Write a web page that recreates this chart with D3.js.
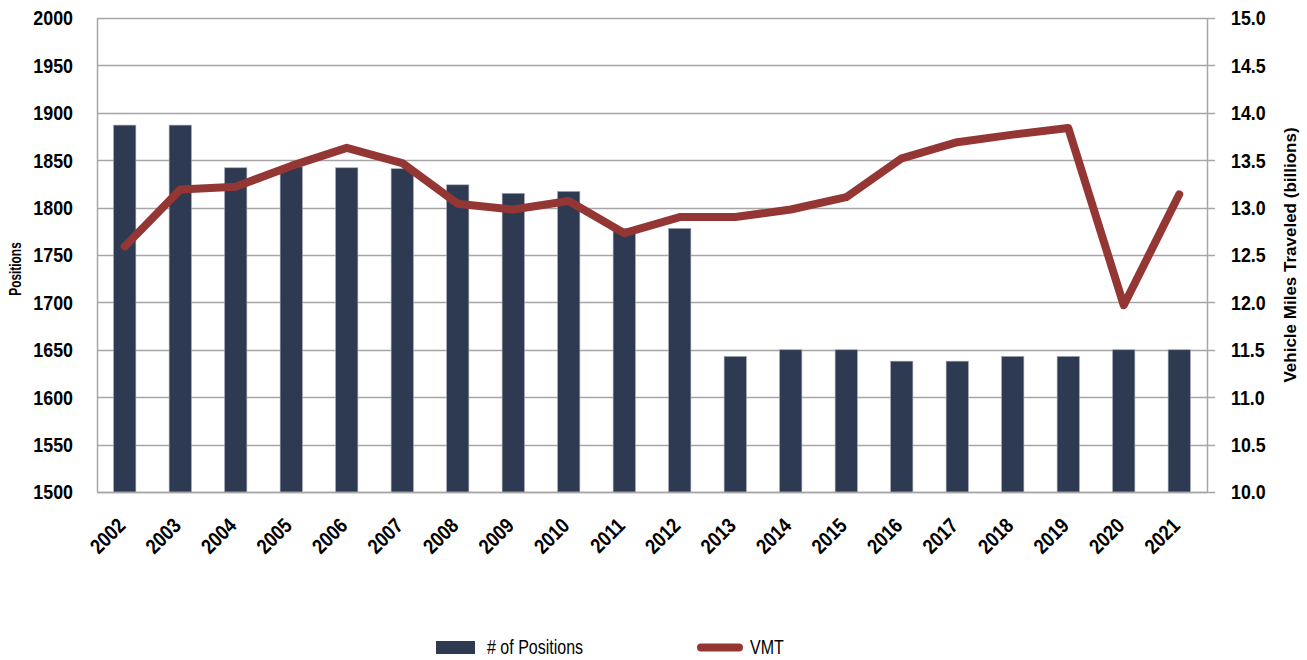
<!DOCTYPE html>
<html>
<head>
<meta charset="utf-8">
<script src="https://cdn.jsdelivr.net/npm/d3@7"></script>
<style>
  body { margin: 0; background: #fff; }
  svg { display: block; }
  text { font-family: "Liberation Sans", Arial, sans-serif; fill: #000; }
</style>
</head>
<body>
<div id="chart"></div>
<script>
// chart data
const years = ['2002', '2003', '2004', '2005', '2006', '2007', '2008', '2009', '2010', '2011',
               '2012', '2013', '2014', '2015', '2016', '2017', '2018', '2019', '2020', '2021'];
const positions = [1887, 1887, 1842, 1843, 1842, 1841, 1824, 1815, 1817, 1778,
                   1778, 1643, 1650, 1650, 1638, 1638, 1643, 1643, 1650, 1650];
const vmt = [12.59, 13.19, 13.22, 13.44, 13.63, 13.47, 13.04, 12.98, 13.07, 12.73,
             12.90, 12.90, 12.98, 13.11, 13.52, 13.69, 13.77, 13.84, 11.97, 13.14];
const leftTicks = [1500, 1550, 1600, 1650, 1700, 1750, 1800, 1850, 1900, 1950, 2000];
const rightTicks = [10, 10.5, 11, 11.5, 12, 12.5, 13, 13.5, 14, 14.5, 15];

const W = 1307, H = 660;
const margin = { top: 18, right: 100, bottom: 168, left: 97 };
const plotW = W - margin.left - margin.right;
const plotH = H - margin.top - margin.bottom;

const barColor = '#2e3a52';
const lineColor = '#943634';
const gridColor = '#a6a6a6';
const squeeze = 0.85; // fake a condensed face

const svg = d3.select('#chart').append('svg')
    .attr('width', W)
    .attr('height', H);

const g = svg.append('g')
    .attr('transform', `translate(${margin.left},${margin.top})`);

const x = d3.scaleBand()
    .domain(years)
    .range([0, plotW])
    .paddingInner(0.6)
    .paddingOuter(0.3);

const yL = d3.scaleLinear().domain([1500, 2000]).range([plotH, 0]);
const yR = d3.scaleLinear().domain([10, 15]).range([plotH, 0]);

// gridlines, running past the right axis as outer ticks
g.append('g')
    .selectAll('line')
    .data(leftTicks)
    .join('line')
    .attr('x1', 0)
    .attr('x2', plotW + 8)
    .attr('y1', d => Math.round(yL(d)) + 0.5)
    .attr('y2', d => Math.round(yL(d)) + 0.5)
    .attr('stroke', gridColor)
    .attr('stroke-width', 1.5);

// bars
g.append('g')
    .selectAll('rect')
    .data(years)
    .join('rect')
    .attr('x', d => x(d))
    .attr('y', (d, i) => yL(positions[i]))
    .attr('width', x.bandwidth())
    .attr('height', (d, i) => plotH - yL(positions[i]))
    .attr('fill', barColor)
    .attr('stroke', '#9aa1ae')
    .attr('stroke-width', 0.6);

// frame
const frame = g.append('g').attr('stroke', gridColor).attr('stroke-width', 1.5);
frame.append('line').attr('x1', 0.5).attr('x2', 0.5).attr('y1', 0).attr('y2', plotH);
frame.append('line').attr('x1', plotW + 0.5).attr('x2', plotW + 0.5).attr('y1', 0).attr('y2', plotH);
frame.append('line').attr('x1', 0).attr('x2', plotW).attr('y1', plotH + 0.5).attr('y2', plotH + 0.5);

// VMT line
const line = d3.line()
    .x((d, i) => x(years[i]) + x.bandwidth() / 2)
    .y(d => yR(d));

g.append('path')
    .datum(vmt)
    .attr('d', line)
    .attr('fill', 'none')
    .attr('stroke', lineColor)
    .attr('stroke-width', 8)
    .attr('stroke-linejoin', 'round')
    .attr('stroke-linecap', 'round');

// left tick labels
g.append('g')
    .selectAll('text')
    .data(leftTicks)
    .join('text')
    .attr('transform', d => `translate(-24,${yL(d)}) scale(${squeeze},1)`)
    .attr('dy', '0.35em')
    .attr('text-anchor', 'end')
    .attr('font-size', 21)
    .attr('font-weight', 'bold')
    .text(d => d);

// right tick labels
g.append('g')
    .selectAll('text')
    .data(rightTicks)
    .join('text')
    .attr('transform', d => `translate(${plotW + 24},${yR(d)}) scale(${squeeze},1)`)
    .attr('dy', '0.35em')
    .attr('text-anchor', 'start')
    .attr('font-size', 21)
    .attr('font-weight', 'bold')
    .text(d => d.toFixed(1));

// x tick labels, rotated
g.append('g')
    .selectAll('text')
    .data(years)
    .join('text')
    .attr('transform', d => `translate(${x(d) + x.bandwidth() / 2 + 2},${plotH + 35}) rotate(-45) scale(${squeeze},1)`)
    .attr('text-anchor', 'end')
    .attr('font-size', 21)
    .attr('font-weight', 'bold')
    .text(d => d);

// axis titles
svg.append('text')
    .attr('transform', `translate(21,${margin.top + plotH / 2 + 14}) rotate(-90) scale(0.7,1)`)
    .attr('text-anchor', 'middle')
    .attr('font-size', 17)
    .attr('font-weight', 'bold')
    .text('Positions');

svg.append('text')
    .attr('transform', `translate(1296,${margin.top + plotH / 2}) rotate(-90)`)
    .attr('text-anchor', 'middle')
    .attr('font-size', 17)
    .attr('font-weight', 'bold')
    .text('Vehicle Miles Traveled (billions)');

// legend
const legend = svg.append('g');
legend.append('rect')
    .attr('x', 436).attr('y', 641)
    .attr('width', 39).attr('height', 13)
    .attr('fill', barColor);
legend.append('text')
    .attr('transform', 'translate(487,654) scale(0.8,1)')
    .attr('font-size', 20)
    .text('# of Positions');
legend.append('line')
    .attr('x1', 701).attr('x2', 739)
    .attr('y1', 647.5).attr('y2', 647.5)
    .attr('stroke', lineColor)
    .attr('stroke-width', 8)
    .attr('stroke-linecap', 'round');
legend.append('text')
    .attr('transform', 'translate(750,654) scale(0.8,1)')
    .attr('font-size', 20)
    .text('VMT');
</script>
</body>
</html>
